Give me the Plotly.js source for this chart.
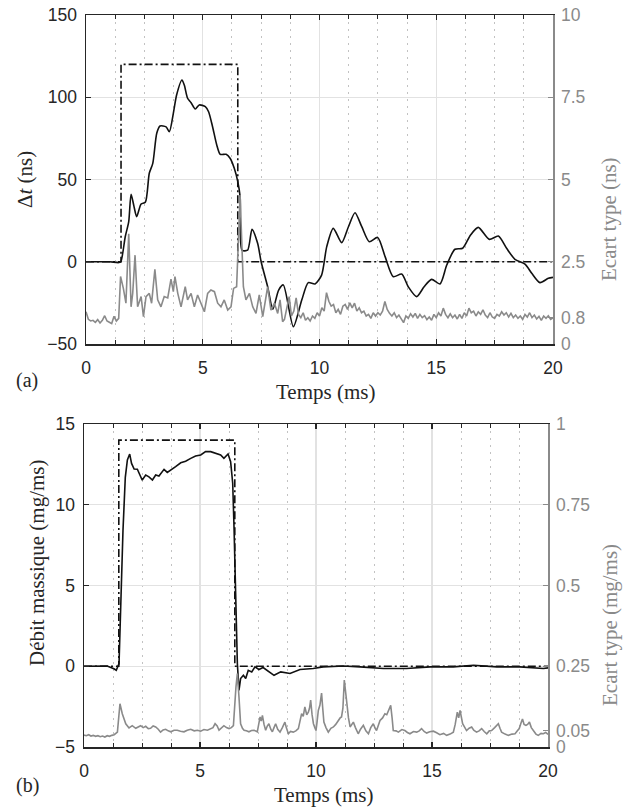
<!DOCTYPE html>
<html><head><meta charset="utf-8">
<script src="https://cdn.plot.ly/plotly-3.0.1.min.js"></script>
<style>html,body{margin:0;padding:0;background:#fff}</style>
</head><body><div id="chart" style="width:630px;height:809px"></div>
<script>
// ---------- (a) Delta t ----------
const cmdT = [0, 1.5, 1.5, 6.5, 6.5, 20];
const cmdA = [0, 0, 120, 120, 0, 0];
const cmdB = [0, 0, 14, 14, 0, 0];

const meanT_a = [0, 0.5, 1.0, 1.4, 1.49, 1.68, 1.83, 1.93, 2.05, 2.17, 2.36, 2.54, 2.71, 2.86, 3.03, 3.17, 3.43, 3.57, 3.74, 3.88, 4.11, 4.21, 4.35, 4.5, 4.68, 4.85, 5.11, 5.25, 5.42, 5.6, 5.75, 6.0, 6.17, 6.35, 6.5, 6.6, 6.68, 6.92, 7.11, 7.35, 7.5, 7.78, 8.0, 8.25, 8.45, 8.88, 9.24, 9.52, 9.81, 10.09, 10.31, 10.59, 10.95, 11.24, 11.52, 11.81, 12.13, 12.49, 12.81, 13.16, 13.52, 13.8, 14.16, 14.48, 14.8, 15.16, 15.45, 15.8, 16.13, 16.47, 16.8, 17.27, 17.66, 18.02, 18.37, 18.8, 19.09, 19.44, 19.8, 20];
const meanV_a = [0, 0, 0, -0.5, 0, 15.2, 24.4, 41, 34, 27.4, 35.1, 36.1, 53.8, 59.8, 78.1, 82.5, 82, 79.1, 90.2, 101.4, 110.5, 107.4, 99.4, 96.7, 92.9, 95.3, 94.3, 91.2, 82.1, 71, 65.3, 65.3, 62.9, 56.8, 48.7, 39.6, 7.1, 7, 19.7, 11.2, 0, -15.2, -28.9, -17.2, -14.1, -39.5, -23.3, -12.7, -13.5, -8.1, 9.2, 20.3, 11.6, 21.3, 29.8, 21.3, 12.2, 14.8, 3.1, -9.1, -7.5, -15.2, -21.2, -15.2, -10.7, -13.5, -2, 7.6, 8.2, 16.3, 20.9, 13.6, 15.6, 8, 1.5, -1.4, -7, -12.7, -10.1, -9.5];

const stdT_a = [0, 0.1, 0.2, 0.3, 0.4, 0.5, 0.6, 0.7, 0.8, 0.9, 1.0, 1.1, 1.2, 1.3, 1.4, 1.48, 1.6, 1.71, 1.83, 1.93, 2.0, 2.1, 2.21, 2.36, 2.46, 2.57, 2.71, 2.81, 2.95, 3.07, 3.21, 3.35, 3.5, 3.64, 3.74, 3.81, 3.93, 4.07, 4.25, 4.35, 4.5, 4.64, 4.78, 4.93, 5.07, 5.21, 5.35, 5.5, 5.64, 5.78, 5.92, 6.07, 6.21, 6.32, 6.45, 6.6, 6.67, 6.74, 6.85, 7.0, 7.14, 7.28, 7.42, 7.57, 7.78, 7.92, 8.07, 8.21, 8.31, 8.42, 8.5, 8.6, 8.7, 8.8, 8.9, 9.0, 9.1, 9.2, 9.3, 9.4, 9.5, 9.6, 9.7, 9.8, 9.9, 10.0, 10.1, 10.2, 10.3, 10.4, 10.5, 10.6, 10.7, 10.8, 10.9, 11.0, 11.1, 11.2, 11.3, 11.4, 11.5, 11.6, 11.7, 11.8, 11.9, 12.0, 12.1, 12.2, 12.3, 12.4, 12.5, 12.6, 12.7, 12.8, 12.9, 13.0, 13.1, 13.2, 13.3, 13.4, 13.5, 13.6, 13.7, 13.8, 13.9, 14.0, 14.1, 14.2, 14.3, 14.4, 14.5, 14.6, 14.7, 14.8, 14.9, 15.0, 15.1, 15.2, 15.3, 15.4, 15.5, 15.6, 15.7, 15.8, 15.9, 16.0, 16.1, 16.2, 16.3, 16.4, 16.5, 16.6, 16.7, 16.8, 16.9, 17.0, 17.1, 17.2, 17.3, 17.4, 17.5, 17.6, 17.7, 17.8, 17.9, 18.0, 18.1, 18.2, 18.3, 18.4, 18.5, 18.6, 18.7, 18.8, 18.9, 19.0, 19.1, 19.2, 19.3, 19.4, 19.5, 19.6, 19.7, 19.8, 19.9, 20.0];
const stdV_a = [0.98, 0.75, 0.7, 0.72, 0.66, 0.74, 0.64, 0.72, 0.86, 0.7, 0.66, 0.62, 0.84, 0.7, 0.78, 2.05, 1.69, 1.24, 3.35, 1.13, 1.54, 2.7, 1.13, 1.44, 0.83, 1.44, 1.54, 1.24, 2.27, 1.34, 1.13, 1.44, 1.4, 1.97, 1.59, 2.05, 1.54, 1.13, 1.74, 1.34, 1.54, 1.13, 1.49, 1.24, 0.98, 1.54, 1.64, 1.59, 1.24, 1.13, 1.34, 1.03, 1.13, 1.69, 1.74, 4.53, 2.96, 1.74, 1.34, 1.54, 1.13, 0.93, 1.49, 0.83, 1.74, 1.03, 1.24, 0.93, 1.34, 0.68, 0.75, 1.05, 1.44, 0.85, 1.0, 1.4, 0.9, 0.8, 0.95, 0.72, 0.8, 0.7, 0.85, 0.78, 0.95, 0.85, 1.1, 1.0, 1.56, 1.3, 1.15, 1.2, 0.95, 1.05, 0.9, 1.15, 1.2, 1.05, 1.25, 1.1, 1.24, 1.0, 1.1, 0.95, 1.0, 0.85, 0.9, 0.78, 0.95, 0.85, 0.95, 0.88, 1.0, 1.29, 1.05, 0.93, 0.85, 0.95, 0.8, 0.88, 0.75, 0.65, 0.85, 0.78, 0.92, 0.82, 0.93, 0.78, 0.9, 0.8, 0.86, 0.74, 0.82, 0.72, 0.9, 0.8, 0.95, 0.85, 1.09, 0.9, 0.8, 0.92, 0.8, 0.88, 0.76, 0.9, 0.78, 0.95, 0.85, 1.09, 0.95, 1.0, 0.85, 0.98, 0.9, 1.04, 0.88, 0.8, 0.95, 0.82, 0.78, 0.9, 0.85, 0.98, 0.88, 0.95, 0.82, 0.93, 0.8, 0.88, 0.78, 0.85, 0.75, 0.9, 0.82, 0.95, 0.8, 0.88, 0.76, 0.84, 0.72, 0.85, 0.78, 0.86, 0.75, 0.8];

// ---------- (b) Debit massique ----------
const meanT_b = [0, 0.5, 1.0, 1.29, 1.39, 1.51, 1.58, 1.68, 1.78, 1.87, 1.97, 2.05, 2.16, 2.3, 2.41, 2.51, 2.66, 2.8, 2.95, 3.09, 3.23, 3.45, 3.59, 3.76, 3.95, 4.17, 4.38, 4.6, 4.81, 5.03, 5.24, 5.46, 5.68, 5.89, 6.03, 6.21, 6.32, 6.41, 6.47, 6.54, 6.61, 6.68, 6.75, 6.87, 6.97, 7.08, 7.23, 7.37, 7.54, 7.72, 7.9, 8.19, 8.48, 8.88, 9.31, 9.88, 10.31, 11.18, 11.9, 12.9, 13.9, 14.92, 15.92, 16.79, 17.79, 18.79, 19.8, 20];
const meanV_b = [0, 0, 0.02, -0.16, -0.25, 0.17, 4.3, 8.4, 11.7, 12.77, 13.14, 12.56, 12.21, 12.2, 11.84, 11.53, 11.84, 11.73, 11.53, 11.84, 11.78, 12.19, 12.0, 12.15, 12.36, 12.6, 12.7, 12.87, 13.02, 13.08, 13.29, 13.29, 13.18, 13.08, 12.87, 13.14, 12.67, 11.33, 8.43, 3.27, 0.17, -1.49, -0.76, -0.56, -0.76, -0.25, -0.35, -0.04, -0.2, -0.08, -0.25, -0.56, -0.35, -0.45, -0.2, -0.14, -0.04, 0.02, -0.04, -0.14, -0.14, -0.04, -0.04, 0.06, -0.04, -0.04, -0.14, -0.1];

const stdT_b = [0, 0.1, 0.2, 0.3, 0.4, 0.5, 0.6, 0.7, 0.8, 0.9, 1.0, 1.1, 1.2, 1.3, 1.44, 1.55, 1.65, 1.8, 1.94, 2.08, 2.23, 2.35, 2.44, 2.55, 2.66, 2.77, 2.87, 2.98, 3.09, 3.2, 3.3, 3.41, 3.52, 3.63, 3.74, 3.88, 4.02, 4.16, 4.31, 4.45, 4.6, 4.75, 4.89, 5.03, 5.17, 5.32, 5.46, 5.56, 5.65, 5.74, 5.82, 5.92, 6.03, 6.14, 6.25, 6.35, 6.44, 6.55, 6.61, 6.68, 6.75, 6.83, 6.9, 7.0, 7.11, 7.22, 7.33, 7.47, 7.59, 7.64, 7.69, 7.76, 7.83, 7.9, 7.97, 8.05, 8.12, 8.19, 8.26, 8.35, 8.45, 8.55, 8.66, 8.72, 8.81, 8.9, 9.02, 9.13, 9.24, 9.31, 9.38, 9.45, 9.52, 9.6, 9.67, 9.72, 9.77, 9.83, 9.89, 9.95, 10.0, 10.05, 10.1, 10.17, 10.24, 10.29, 10.34, 10.43, 10.53, 10.64, 10.75, 10.85, 10.96, 11.04, 11.1, 11.16, 11.22, 11.27, 11.32, 11.4, 11.47, 11.54, 11.61, 11.7, 11.82, 11.92, 12.04, 12.15, 12.26, 12.36, 12.47, 12.55, 12.61, 12.7, 12.76, 12.87, 12.97, 13.05, 13.12, 13.22, 13.28, 13.33, 13.45, 13.55, 13.7, 13.83, 13.94, 14.05, 14.2, 14.34, 14.45, 14.55, 14.66, 14.77, 14.9, 15.06, 15.2, 15.34, 15.5, 15.63, 15.78, 15.92, 16.0, 16.09, 16.15, 16.21, 16.32, 16.4, 16.49, 16.6, 16.71, 16.8, 16.92, 17.03, 17.14, 17.25, 17.36, 17.47, 17.57, 17.7, 17.86, 17.93, 18.0, 18.15, 18.29, 18.45, 18.58, 18.68, 18.76, 18.84, 18.9, 18.97, 19.05, 19.12, 19.2, 19.28, 19.37, 19.48, 19.58, 19.7, 19.8, 19.9, 20];
const stdV_b = [0.037, 0.035, 0.038, 0.034, 0.036, 0.033, 0.035, 0.032, 0.034, 0.031, 0.035, 0.033, 0.036, 0.038, 0.046, 0.134, 0.103, 0.072, 0.059, 0.066, 0.058, 0.063, 0.066, 0.06, 0.064, 0.057, 0.058, 0.065, 0.062, 0.055, 0.046, 0.053, 0.055, 0.05, 0.047, 0.052, 0.052, 0.049, 0.047, 0.052, 0.055, 0.05, 0.052, 0.049, 0.054, 0.052, 0.057, 0.06, 0.072, 0.065, 0.052, 0.058, 0.066, 0.06, 0.057, 0.06, 0.066, 0.186, 0.227, 0.155, 0.072, 0.058, 0.052, 0.05, 0.047, 0.051, 0.052, 0.047, 0.093, 0.08, 0.098, 0.07, 0.052, 0.065, 0.072, 0.055, 0.047, 0.06, 0.072, 0.055, 0.046, 0.06, 0.077, 0.06, 0.041, 0.048, 0.046, 0.05, 0.057, 0.08, 0.103, 0.095, 0.124, 0.1, 0.108, 0.12, 0.145, 0.1, 0.072, 0.06, 0.051, 0.08, 0.113, 0.13, 0.167, 0.12, 0.077, 0.06, 0.046, 0.058, 0.062, 0.07, 0.082, 0.09, 0.093, 0.12, 0.207, 0.17, 0.139, 0.09, 0.062, 0.07, 0.077, 0.06, 0.041, 0.055, 0.067, 0.05, 0.041, 0.06, 0.072, 0.058, 0.051, 0.07, 0.082, 0.09, 0.103, 0.1, 0.113, 0.129, 0.09, 0.051, 0.05, 0.046, 0.054, 0.051, 0.045, 0.041, 0.048, 0.046, 0.05, 0.057, 0.048, 0.043, 0.047, 0.049, 0.044, 0.038, 0.042, 0.036, 0.04, 0.046, 0.07, 0.108, 0.09, 0.113, 0.072, 0.06, 0.051, 0.058, 0.062, 0.052, 0.046, 0.05, 0.057, 0.048, 0.041, 0.05, 0.051, 0.06, 0.072, 0.058, 0.046, 0.04, 0.036, 0.04, 0.041, 0.05, 0.057, 0.075, 0.087, 0.07, 0.067, 0.07, 0.077, 0.06, 0.051, 0.04, 0.036, 0.042, 0.041, 0.045, 0.039];

// ---------- tick labels ----------
const xTicks = [0, 5, 10, 15, 20];
const yTicksA = [-50, 0, 50, 100, 150];
const y2TicksA = [0, 0.8, 2.5, 5, 7.5, 10];
const y2TextA = ['0', '0.8', '2.5', '5', '7.5', '10'];
const yTicksB = [-5, 0, 5, 10, 15];
const y2TicksB = [0, 0.05, 0.25, 0.5, 0.75, 1];
const y2TextB = ['0', '0.05', '0.25', '0.5', '0.75', '1'];

const DARK = '#262626', GRAY = '#8a8a8a', GRID = '#e2e2e2';
const SANS = '"Liberation Sans", Arial, sans-serif';
const SERIF = '"Liberation Serif", "Times New Roman", serif';
const W = 630, H = 809;

function xAxis(domain, anchor) {
  return {
    domain: domain, anchor: anchor, range: [0, 20], tickmode: 'array', tickvals: xTicks,
    ticks: 'inside', ticklen: 5, tickwidth: 1.2, tickcolor: DARK, ticklabelstandoff: 7,
    showline: true, linecolor: DARK, linewidth: 1.5, mirror: 'ticks',
    showgrid: true, gridcolor: GRID, gridwidth: 1.3, zeroline: false,
    tickfont: {family: SANS, size: 17.5, color: DARK},
    minor: {tickmode: 'linear', tick0: 0, dtick: 1.25, ticks: 'inside', ticklen: 4,
            tickcolor: DARK, tickwidth: 1, showgrid: true, gridcolor: '#c2c2c2',
            griddash: '2px,5px', gridwidth: 1}
  };
}
function yLeft(domain, anchor, range, tv) {
  return {
    domain: domain, anchor: anchor, range: range, tickmode: 'array', tickvals: tv,
    ticks: 'inside', ticklen: 5, tickwidth: 1.2, tickcolor: DARK, ticklabelstandoff: 4,
    showline: true, linecolor: DARK, linewidth: 1.5, mirror: false,
    showgrid: true, gridcolor: GRID, gridwidth: 1.3, zeroline: false,
    tickfont: {family: SANS, size: 17.5, color: DARK}
  };
}
function yRight(overlay, anchor, range, tv, tt) {
  return {
    overlaying: overlay, anchor: anchor, side: 'right', range: range,
    tickmode: 'array', tickvals: tv, ticktext: tt,
    ticks: 'inside', ticklen: 5, tickwidth: 1.2, tickcolor: GRAY, ticklabelstandoff: 3,
    showline: true, linecolor: GRAY, linewidth: 1.5,
    showgrid: false, zeroline: false,
    tickfont: {family: SANS, size: 17.5, color: GRAY}
  };
}

const traces = [
  {x: cmdT, y: cmdA, xaxis: 'x', yaxis: 'y', mode: 'lines', line: {color: '#111', width: 1.6, dash: '8px,3px,2px,3px'}},
  {x: meanT_a, y: meanV_a, xaxis: 'x', yaxis: 'y', mode: 'lines', line: {color: '#111', width: 1.6, shape: 'spline', smoothing: 0.7}},
  {x: stdT_a, y: stdV_a, xaxis: 'x', yaxis: 'y2', mode: 'lines', line: {color: GRAY, width: 1.6}},
  {x: cmdT, y: cmdB, xaxis: 'x2', yaxis: 'y3', mode: 'lines', line: {color: '#111', width: 1.6, dash: '8px,3px,2px,3px'}},
  {x: meanT_b, y: meanV_b, xaxis: 'x2', yaxis: 'y3', mode: 'lines', line: {color: '#111', width: 1.6}},
  {x: stdT_b, y: stdV_b, xaxis: 'x2', yaxis: 'y4', mode: 'lines', line: {color: GRAY, width: 1.6}}
];

function ann(text, px, py, color, angle, size) {
  return {text: text, x: px / W, y: 1 - py / H, xref: 'paper', yref: 'paper', showarrow: false,
          xanchor: 'center', yanchor: 'middle', textangle: angle || 0,
          font: {family: SERIF, size: size || 21, color: color}};
}

const layout = {
  width: W, height: H, margin: {l: 0, r: 0, t: 0, b: 0},
  paper_bgcolor: '#fff', plot_bgcolor: '#fff', showlegend: false,
  xaxis: xAxis([86 / W, 553 / W], 'y'),
  yaxis: yLeft([1 - 344 / H, 1 - 15 / H], 'x', [-50, 150], yTicksA),
  yaxis2: yRight('y', 'x', [0, 10], y2TicksA, y2TextA),
  xaxis2: xAxis([84 / W, 548 / W], 'y3'),
  yaxis3: yLeft([1 - 747 / H, 1 - 424 / H], 'x2', [-5, 15], yTicksB),
  yaxis4: yRight('y3', 'x2', [0, 1], y2TicksB, y2TextB),
  annotations: [
    ann('Δ<i>t</i> (ns)', 25, 180, DARK, -90),
    ann('Ecart type (ns)', 609, 219, GRAY, -90),
    ann('Temps (ms)', 325, 392, DARK, 0),
    ann('(a)', 27, 380, DARK, 0, 20),
    ann('Débit massique (mg/ms)', 37, 563, DARK, -90),
    ann('Ecart type (mg/ms)', 610, 625, GRAY, -90),
    ann('Temps (ms)', 323, 795, DARK, 0),
    ann('(b)', 27, 785, DARK, 0, 20)
  ]
};

Plotly.newPlot('chart', traces, layout, {staticPlot: true, displayModeBar: false});
</script></body></html>
